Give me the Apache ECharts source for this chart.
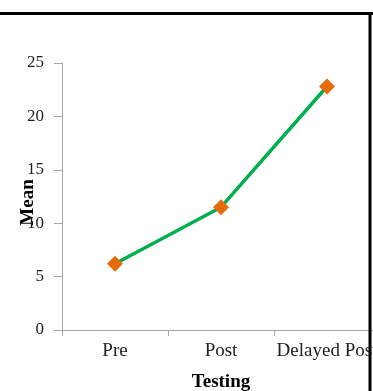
<!DOCTYPE html>
<html>
<head>
<meta charset="utf-8">
<script src="https://cdn.jsdelivr.net/npm/echarts@6/dist/echarts.min.js"></script>
<style>
html,body{margin:0;padding:0;background:#fff;overflow:hidden;}
#chart{width:373px;height:391px;}
</style>
</head>
<body>
<div id="chart"></div>
<script>
const categories = ['Pre', 'Post', 'Delayed Post'];
const meanValues = [6.2, 11.5, 22.8];
const yTicks = [0, 5, 10, 15, 20, 25];

const chart = echarts.init(document.getElementById('chart'), null, {renderer: 'canvas'});
const serif = 'Liberation Serif';
chart.setOption({
  animation: false,
  backgroundColor: '#ffffff',
  grid: {left: 62, top: 63, right: -7, bottom: 61, containLabel: false, outerBoundsMode: 'none'},
  xAxis: {
    type: 'category',
    data: categories,
    boundaryGap: true,
    name: 'Testing',
    nameLocation: 'middle',
    nameGap: 43,
    nameMoveOverlap: false,
    nameTextStyle: {fontFamily: serif, fontSize: 19, fontWeight: 'bold', color: '#000'},
    axisLine: {lineStyle: {color: '#a6a6a6', width: 1}},
    axisTick: {show: true, length: 6, alignWithLabel: false, interval: 0, lineStyle: {color: '#a6a6a6'}},
    axisLabel: {fontFamily: serif, fontSize: 19, color: '#222', margin: 12, interval: 0, hideOverlap: false}
  },
  yAxis: {
    type: 'value',
    min: yTicks[0],
    max: yTicks[yTicks.length - 1],
    interval: 5,
    name: 'Mean',
    nameLocation: 'middle',
    nameGap: 24,
    nameMoveOverlap: false,
    nameTextStyle: {fontFamily: serif, fontSize: 19, fontWeight: 'bold', color: '#000', padding: [0, 12, 0, 0]},
    axisLine: {show: true, lineStyle: {color: '#a6a6a6', width: 1}},
    axisTick: {show: true, length: 8, lineStyle: {color: '#a6a6a6'}},
    axisLabel: {fontFamily: serif, fontSize: 17, color: '#222', margin: 18},
    splitLine: {show: false}
  },
  series: [{
    type: 'line',
    data: meanValues,
    lineStyle: {color: '#00b050', width: 3.5},
    itemStyle: {color: '#e46c0a'},
    symbol: 'diamond',
    symbolSize: 16,
    showSymbol: true,
    z: 3
  }],
  graphic: [
    {type: 'line', z: 100, shape: {x1: 0, y1: 13.5, x2: 373, y2: 13.5}, style: {stroke: '#000', lineWidth: 3}},
    {type: 'line', z: 100, shape: {x1: 370, y1: 12, x2: 370, y2: 391}, style: {stroke: '#000', lineWidth: 3}}
  ]
});
</script>
</body>
</html>
